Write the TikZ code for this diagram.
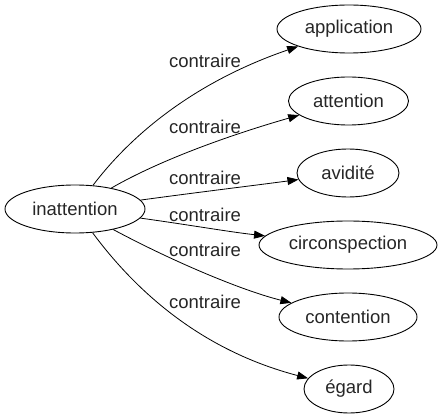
\documentclass[tikz,border=0pt]{standalone}
\usepackage{fontspec}
\setmainfont{Liberation Sans}
\usetikzlibrary{shapes.geometric,arrows.meta}
\begin{document}
\begin{tikzpicture}[x=1pt,y=-1pt,
  word/.style={draw,ellipse,line width=0.9pt,inner sep=0pt,minimum height=48pt,font=\fontsize{18.5}{22}\selectfont,text=black!85},
  rel/.style={font=\fontsize{18.5}{22}\selectfont,text=black!85,inner sep=0pt},
  link/.style={line width=0.8pt,-{Triangle[length=11pt,width=8pt]}}]
\useasboundingbox (0,0) rectangle (444,419);
\node[word,minimum width=140pt] (ina) at (75,209) {inattention};
\node[word,minimum width=144pt] (app) at (349,29) {application};
\node[word,minimum width=120pt] (att) at (348.5,101) {attention};
\node[word,minimum width=102pt] (avi) at (348,173) {avidité};
\node[word,minimum width=178pt] (cir) at (348,245) {circonspection};
\node[word,minimum width=138pt] (con) at (348,317) {contention};
\node[word,minimum width=90pt] (ega) at (349,389) {égard};
\draw[link] (ina) .. controls (135,130) and (200,80) .. (app);
\draw[link] (ina) .. controls (160,160) and (230,135) .. (att);
\draw[link] (ina) .. controls (200,192) and (250,186) .. (avi);
\draw[link] (ina) .. controls (190,225) and (230,232) .. (cir);
\draw[link] (ina) .. controls (170,260) and (240,290) .. (con);
\draw[link] (ina) .. controls (135,290) and (200,350) .. (ega);
\node[rel] (l1) at (205,61) {contraire};
\node[rel] (l2) at (205,127) {contraire};
\node[rel] (l3) at (205,178) {contraire};
\node[rel] (l4) at (205,215) {contraire};
\node[rel] (l5) at (205,250) {contraire};
\node[rel] (l6) at (205,302) {contraire};
\end{tikzpicture}
\end{document}
